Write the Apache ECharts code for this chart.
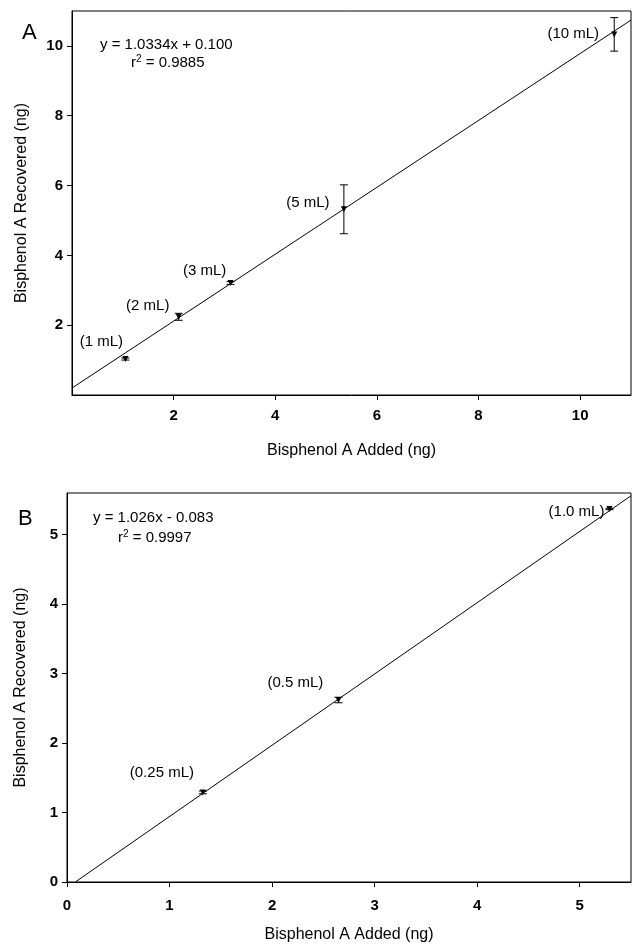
<!DOCTYPE html>
<html><head><meta charset="utf-8">
<script src="https://cdn.jsdelivr.net/npm/echarts@6/dist/echarts.min.js"></script>
<style>html,body{margin:0;padding:0;background:#fff}#c{width:634px;height:950px}</style>
</head><body><div id="c"></div>
<script>
// ---- Panel A data ----
const addedA = [1.05, 2.10, 3.12, 5.35, 10.67];
const recoveredA = [1.03, 2.24, 3.21, 5.32, 10.33];
const errA = [0.03, 0.10, 0.04, 0.70, 0.48];
const volumesA = ['(1 mL)', '(2 mL)', '(3 mL)', '(5 mL)', '(10 mL)'];
const fitA = [[0, 0.20], [11, 10.74]];
const xTicksA = [2, 4, 6, 8, 10];
const xLabelsA = [2, 4, 6, 8, 10];
const yTicksA = [2, 4, 6, 8, 10];
const yLabelsA = [2, 4, 6, 8, 10];
const eqA = 'y = 1.0334x + 0.100';
const r2A = '0.9885';

// ---- Panel B data ----
const addedB = [1.325, 2.647, 5.29];
const recoveredB = [1.29, 2.62, 5.37];
const errB = [0.02, 0.04, 0.01];
const volumesB = ['(0.25 mL)', '(0.5 mL)', '(1.0 mL)'];
const fitB = [[0.081, 0], [5.5, 5.56]];
const xTicksB = [0, 1, 2, 3, 4, 5];
const yTicksB = [0, 1, 2, 3, 4, 5];
const eqB = 'y = 1.026x - 0.083';
const r2B = '0.9997';

const xTitle = 'Bisphenol A Added (ng)';
const yTitle = 'Bisphenol A Recovered (ng)';

// ---- styling / layout ----
const FONT = '"Liberation Sans", Arial, Helvetica, sans-serif';
const labelOffsetsA = [[-24, -17], [-31, -11], [-26, -12], [-36, -6], [-41, -1]];
const labelOffsetsB = [[-41, -20], [-43, -17], [-33, 3]];

const chart = echarts.init(document.getElementById('c'), null, {renderer: 'canvas'});

function xAxisCfg(grid, min, max, ticks, labels, margin, gap) {
  return {
    gridIndex: grid, type: 'value', min: min, max: max,
    axisLine: {show: true, onZero: false, lineStyle: {color: '#000', width: 1}},
    axisTick: {show: true, inside: false, length: 5, lineStyle: {color: '#000'}, customValues: ticks},
    axisLabel: {customValues: labels, margin: margin, color: '#000', fontSize: 15, fontWeight: 'bold', fontFamily: FONT},
    splitLine: {show: false},
    name: xTitle, nameLocation: 'middle', nameGap: gap,
    nameTextStyle: {color: '#000', fontSize: 16, fontFamily: FONT}
  };
}
function yAxisCfg(grid, min, max, ticks, labels, gap) {
  return {
    gridIndex: grid, type: 'value', min: min, max: max,
    axisLine: {show: true, onZero: false, lineStyle: {color: '#000', width: 1}},
    axisTick: {show: true, inside: false, length: 5, lineStyle: {color: '#000'}, customValues: ticks},
    axisLabel: {customValues: labels, margin: 9, color: '#000', fontSize: 15, fontWeight: 'bold', fontFamily: FONT},
    splitLine: {show: false},
    name: yTitle, nameLocation: 'middle', nameGap: gap, nameRotate: 90,
    nameTextStyle: {color: '#000', fontSize: 16, fontFamily: FONT}
  };
}
function errorBars(idx, xs, ys, es) {
  return {
    type: 'custom', xAxisIndex: idx, yAxisIndex: idx, z: 3, silent: true,
    data: xs.map((x, i) => [x, ys[i], es[i]]),
    renderItem: function (params, api) {
      const x = api.value(0), y = api.value(1), e = api.value(2);
      const hi = api.coord([x, y + e]), lo = api.coord([x, y - e]);
      const c = 4;
      const st = {stroke: '#000', lineWidth: 1};
      return {type: 'group', children: [
        {type: 'line', shape: {x1: hi[0], y1: hi[1], x2: lo[0], y2: lo[1]}, style: st},
        {type: 'line', shape: {x1: hi[0] - c, y1: hi[1], x2: hi[0] + c, y2: hi[1]}, style: st},
        {type: 'line', shape: {x1: lo[0] - c, y1: lo[1], x2: lo[0] + c, y2: lo[1]}, style: st}
      ]};
    }
  };
}
function points(idx, xs, ys, names, offs) {
  return {
    type: 'scatter', xAxisIndex: idx, yAxisIndex: idx, z: 4, silent: true,
    symbol: 'triangle', symbolRotate: 180, symbolSize: 6,
    itemStyle: {color: '#000', opacity: 1},
    data: xs.map((x, i) => ({
      value: [x, ys[i]], name: names[i],
      label: {show: true, formatter: names[i], position: 'inside', offset: offs[i], opacity: 1,
        color: '#000', fontSize: 15, fontFamily: FONT, align: 'center', verticalAlign: 'middle',
        textBorderWidth: 0}
    }))
  };
}
function fitLine(idx, pts) {
  return {type: 'line', xAxisIndex: idx, yAxisIndex: idx, data: pts, showSymbol: false,
    silent: true, lineStyle: {color: '#000', width: 1}, z: 2};
}
function eqText(x, y, txt) {
  return {type: 'text', x: x, y: y, style: {text: txt, fill: '#000', font: '15px ' + FONT, verticalAlign: 'middle'}};
}
function r2Text(x, y, val) {
  return {type: 'text', x: x, y: y, style: {
    text: '{a|r}{s|2}{a| = ' + val + '}', verticalAlign: 'middle',
    rich: {a: {fill: '#000', fontSize: 15, fontFamily: FONT},
           s: {fill: '#000', fontSize: 10, fontFamily: FONT, verticalAlign: 'top', padding: [0, 0, 7, 0]}}
  }};
}

const option = {
  backgroundColor: '#fff',
  animation: false,
  grid: [
    {left: 72, top: 11, width: 559, height: 384, show: true, borderColor: '#000', borderWidth: 1, backgroundColor: 'transparent'},
    {left: 67, top: 493, width: 564, height: 389, show: true, borderColor: '#000', borderWidth: 1, backgroundColor: 'transparent'}
  ],
  xAxis: [
    xAxisCfg(0, 0, 11, xTicksA, xLabelsA, 13, 48),
    xAxisCfg(1, 0, 5.5, xTicksB, xTicksB, 16, 45)
  ],
  yAxis: [
    yAxisCfg(0, 0, 11, yTicksA, yLabelsA, 42),
    yAxisCfg(1, 0, 5.6, yTicksB, yTicksB, 38)
  ],
  series: [
    fitLine(0, fitA), errorBars(0, addedA, recoveredA, errA), points(0, addedA, recoveredA, volumesA, labelOffsetsA),
    fitLine(1, fitB), errorBars(1, addedB, recoveredB, errB), points(1, addedB, recoveredB, volumesB, labelOffsetsB)
  ],
  graphic: [
    {type: 'text', x: 22, y: 33, style: {text: 'A', fill: '#000', font: '22px ' + FONT, verticalAlign: 'middle'}},
    {type: 'text', x: 18, y: 519, style: {text: 'B', fill: '#000', font: '22px ' + FONT, verticalAlign: 'middle'}},
    eqText(100, 45, eqA), r2Text(131, 63, r2A),
    eqText(93, 518, eqB), r2Text(118, 538, r2B)
  ]
};
chart.setOption(option);
</script></body></html>
